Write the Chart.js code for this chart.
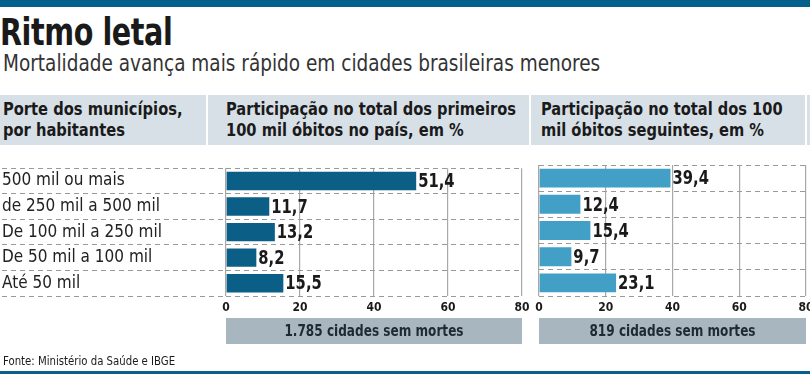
<!DOCTYPE html>
<html>
<head>
<meta charset="utf-8">
<script src="https://cdn.jsdelivr.net/npm/chart.js@4"></script>
<style>
  body { margin: 0; background: #fff; }
  #page { position: relative; width: 810px; height: 374px; overflow: hidden; font-family: "DejaVu Sans Condensed", "Liberation Sans Narrow", sans-serif; color: #1a1a1a; }
  .topbar { position: absolute; left: 0; top: 0; width: 810px; height: 7px; background: #03618c; }
  .bottombar { position: absolute; left: 0; top: 371px; width: 810px; height: 3px; background: #03618c; }
  .squeeze { display: inline-block; transform-origin: 0 0; white-space: nowrap; }
  h1 { position: absolute; left: 0; top: 11px; margin: 0; font-size: 37px; font-weight: bold; letter-spacing: -0.5px; }
  .sub { position: absolute; left: 3px; top: 50px; font-size: 23px; color: #333; }
  .band { position: absolute; top: 95px; height: 50px; background: #d8e0e7; font-weight: bold; font-size: 17px; line-height: 21px; padding: 4px 0 0 3px; box-sizing: border-box; overflow: hidden; }
  .src { position: absolute; left: 3px; top: 354px; font-size: 12px; }
  .wrap { position: absolute; top: 155px; height: 200px; }
</style>
</head>
<body>
<div id="page">
  <div class="topbar"></div>
  <h1><span class="squeeze" style="transform:scaleX(0.86)">Ritmo letal</span></h1>
  <div class="sub"><span class="squeeze" style="transform:scaleX(0.893)">Mortalidade avança mais rápido em cidades brasileiras menores</span></div>
  <div class="band" style="left:0;width:206px"><span class="squeeze" style="transform:scaleX(0.96)">Porte dos municípios,<br>por habitantes</span></div>
  <div class="band" style="left:208px;width:321px;padding-left:18px"><span class="squeeze" style="transform:scaleX(0.957)">Participação no total dos primeiros<br>100 mil óbitos no país, em %</span></div>
  <div class="band" style="left:531px;width:274px;padding-left:10px"><span class="squeeze" style="transform:scaleX(0.957)">Participação no total dos 100<br>mil óbitos seguintes, em %</span></div>
  <div class="band" style="left:807px;width:3px;padding:0"></div>
  <div class="wrap" style="left:0;width:530px"><canvas id="c1"></canvas></div>
  <div class="wrap" style="left:530px;width:280px"><canvas id="c2"></canvas></div>
  <div class="src"><span class="squeeze" style="transform:scaleX(0.94)">Fonte: Ministério da Saúde e IBGE</span></div>
  <div class="bottombar"></div>
</div>
<script>
const categories = ['500 mil ou mais', 'de 250 mil a 500 mil', 'De 100 mil a 250 mil', 'De 50 mil a 100 mil', 'Até 50 mil'];
const firstDeaths = [51.4, 11.7, 13.2, 8.2, 15.5];
const nextDeaths = [39.4, 12.4, 15.4, 9.7, 23.1];
const xTicks = [0, 20, 40, 60, 80];
const footerNotes = ['1.785 cidades sem mortes', '819 cidades sem mortes'];

const FONT = '"DejaVu Sans Condensed", "Liberation Sans Narrow", sans-serif';

// value labels at the end of each bar (narrowed to look condensed)
const valueLabels = {
  id: 'valueLabels',
  afterDatasetsDraw(chart) {
    const ctx = chart.ctx;
    chart.getDatasetMeta(0).data.forEach((bar, i) => {
      const v = chart.data.datasets[0].data[i];
      ctx.save();
      ctx.translate(bar.x + 2, bar.y + 1);
      ctx.scale(0.82, 1);
      ctx.font = 'bold 20px ' + FONT;
      ctx.fillStyle = '#1a1a1a';
      ctx.textBaseline = 'middle';
      ctx.fillText(v.toFixed(1).replace('.', ','), 0, 0);
      ctx.restore();
    });
  }
};

// grey note box under the axis
const footerBox = {
  id: 'footerBox',
  afterDraw(chart, args, opts) {
    const ctx = chart.ctx;
    const a = chart.chartArea;
    const top = chart.scales.x.bottom;
    ctx.save();
    ctx.fillStyle = '#a7b6bf';
    ctx.fillRect(a.left, top, a.right - a.left, 26);
    ctx.translate((a.left + a.right) / 2, top + 14);
    ctx.scale(0.84, 1);
    ctx.font = 'bold 16px ' + FONT;
    ctx.fillStyle = '#1e2a32';
    ctx.textAlign = 'center';
    ctx.textBaseline = 'middle';
    ctx.fillText(opts.text, 0, 0);
    ctx.restore();
  }
};

function makeChart(id, values, color, note, withLabels) {
  new Chart(document.getElementById(id), {
    type: 'bar',
    data: {
      labels: categories,
      datasets: [{ data: values, backgroundColor: color, barPercentage: 0.72, categoryPercentage: 1 }]
    },
    plugins: [valueLabels, footerBox],
    options: {
      indexAxis: 'y',
      responsive: true,
      maintainAspectRatio: false,
      animation: false,
      layout: { padding: { top: 10, bottom: 37, left: withLabels ? 2 : 0, right: withLabels ? 8 : 4 } },
      plugins: { legend: { display: false }, tooltip: { enabled: false }, footerBox: { text: note } },
      scales: {
        x: {
          min: 0, max: 80,
          afterBuildTicks: s => { s.ticks = xTicks.map(v => ({ value: v })); },
          afterFit: s => { s.height = 22; s.paddingLeft = 0; s.paddingRight = 0; },
          border: { display: false },
          grid: { color: '#a8a8a8', lineWidth: 1.2, drawTicks: false },
          ticks: { padding: 5, color: '#1a1a1a', font: { family: FONT, size: 12, weight: 'bold' } }
        },
        y: {
          afterFit: s => { s.width = withLabels ? 224 : 9; },
          border: { display: false, dash: [5, 4] },
          grid: {
            color: '#9a9a9a', lineWidth: 1,
            drawTicks: withLabels, tickLength: 224, tickColor: '#9a9a9a', tickBorderDash: [5, 4]
          },
          ticks: {
            display: withLabels, crossAlign: 'far', color: '#222',
            font: { family: FONT, size: 17 }
          }
        }
      }
    }
  });
}

makeChart('c1', firstDeaths, '#0b5e85', footerNotes[0], true);
makeChart('c2', nextDeaths, '#429fc6', footerNotes[1], false);
</script>
</body>
</html>
